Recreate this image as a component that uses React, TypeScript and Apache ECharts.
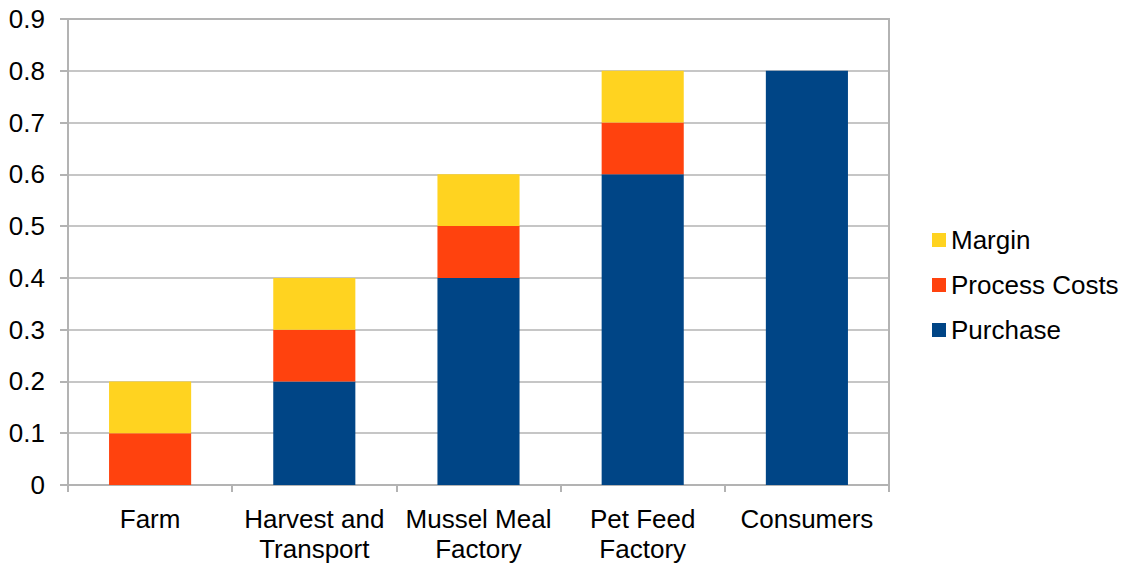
import React, { useEffect, useRef } from "react";
import * as echarts from "echarts";

const categories = ["Farm", "Harvest and\nTransport", "Mussel Meal\nFactory", "Pet Feed\nFactory", "Consumers"];
const purchase = [0, 0.2, 0.4, 0.6, 0.8];
const processCosts = [0.1, 0.1, 0.1, 0.1, 0];
const margin = [0.1, 0.1, 0.1, 0.1, 0];

const FONT = "'Liberation Sans', Arial, sans-serif";
const GRAY = "#b3b3b3";

export default function App() {
  const ref = useRef<HTMLDivElement>(null);

  useEffect(() => {
    if (!ref.current) return;
    const chart = echarts.init(ref.current, undefined, { renderer: "svg" });
    chart.setOption({
      animation: false,
      backgroundColor: "#ffffff",
      textStyle: { fontFamily: FONT },
      grid: { left: 68, right: 238, top: 19, bottom: 80, show: true, borderColor: GRAY, borderWidth: 2 },
      legend: {
        orient: "vertical",
        left: 932,
        top: 226,
        padding: 0,
        itemWidth: 14,
        itemHeight: 14,
        itemGap: 17,
        icon: "rect",
        data: ["Margin", "Process Costs", "Purchase"],
        textStyle: { fontSize: 26, lineHeight: 28, color: "#000", fontFamily: FONT },
      },
      xAxis: {
        type: "category",
        data: categories,
        axisLine: { lineStyle: { color: GRAY, width: 2 } },
        axisTick: { show: true, length: 7, lineStyle: { color: GRAY, width: 2 } },
        axisLabel: { fontSize: 26, color: "#000", margin: 19, lineHeight: 30, fontFamily: FONT, interval: 0 },
      },
      yAxis: {
        type: "value",
        min: 0,
        max: 0.9,
        interval: 0.1,
        axisLine: { show: true, lineStyle: { color: GRAY, width: 2 } },
        axisTick: { show: true, length: 8, lineStyle: { color: GRAY, width: 2 } },
        splitLine: { lineStyle: { color: GRAY, width: 1.5 } },
        axisLabel: {
          fontSize: 26,
          color: "#000",
          margin: 23,
          fontFamily: FONT,
          formatter: (v: number) => (v === 0 ? "0" : v.toFixed(1)),
        },
      },
      series: [
        { name: "Purchase", type: "bar", stack: "total", barWidth: "50%", data: purchase, itemStyle: { color: "#004586" } },
        { name: "Process Costs", type: "bar", stack: "total", data: processCosts, itemStyle: { color: "#ff420e" } },
        { name: "Margin", type: "bar", stack: "total", data: margin, itemStyle: { color: "#ffd320" } },
      ],
    });
    return () => chart.dispose();
  }, []);

  return <div ref={ref} style={{ width: 1127, height: 565, position: "absolute", left: 0, top: 0 }} />;
}
